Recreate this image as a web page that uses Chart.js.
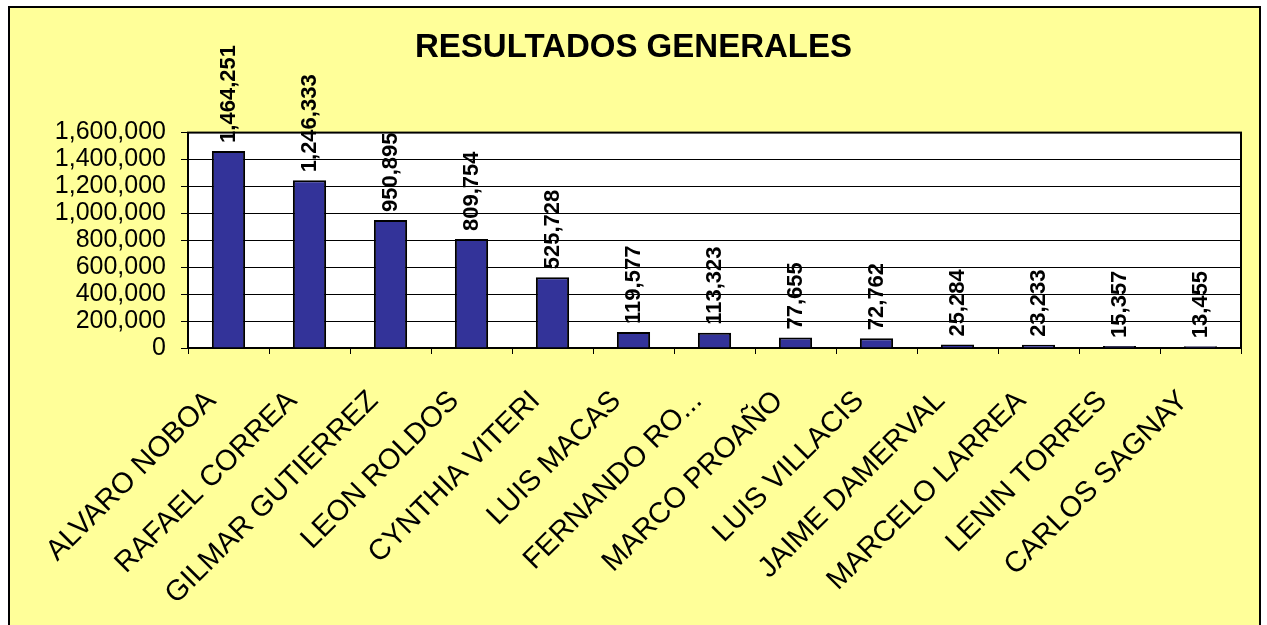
<!DOCTYPE html>
<html>
<head>
<meta charset="utf-8">
<script src="https://cdn.jsdelivr.net/npm/chart.js@4"></script>
<style>
    html, body { margin: 0; padding: 0; background: #ffffff; width: 1267px; height: 625px; overflow: hidden; }
    #marco {
        position: absolute; left: 8px; top: 6px; width: 1249px; height: 660px;
        background: #FFFF99; border: 2px solid #000000;
    }
    #grafico { position: absolute; left: 0; top: 0; }
</style>
</head>
<body>
<div id="marco"></div>
<canvas id="grafico" width="1267" height="625"></canvas>
<script>
// Datos del gráfico
const candidatos = [
    'ALVARO NOBOA', 'RAFAEL CORREA', 'GILMAR GUTIERREZ', 'LEON ROLDOS',
    'CYNTHIA VITERI', 'LUIS MACAS', 'FERNANDO RO...', 'MARCO PROAÑO',
    'LUIS VILLACIS', 'JAIME DAMERVAL', 'MARCELO LARREA', 'LENIN TORRES', 'CARLOS SAGNAY'
];
const votos = [1464251, 1246333, 950895, 809754, 525728, 119577, 113323, 77655, 72762, 25284, 23233, 15357, 13455];
const ejeYMin = 0;
const ejeYMax = 1600000;
const ejeYPaso = 200000;

const FUENTE = "'Liberation Sans', Arial, sans-serif";

function formato(n) {
    return Number(n).toLocaleString('en-US');
}

// Fondo blanco y marco del área de trazado
const areaTrazado = {
    id: 'areaTrazado',
    beforeDraw(chart) {
        const { ctx, chartArea: a } = chart;
        ctx.save();
        ctx.fillStyle = '#ffffff';
        ctx.fillRect(a.left, a.top, a.right - a.left, a.bottom - a.top);
        ctx.restore();
    },
    beforeDatasetsDraw(chart) {
        const { ctx, chartArea: a } = chart;
        ctx.save();
        ctx.strokeStyle = '#000000';
        ctx.lineWidth = 2;
        ctx.strokeRect(a.left, a.top, a.right - a.left, a.bottom - a.top);
        ctx.restore();
    }
};

// Etiquetas de valor verticales sobre cada barra
const etiquetasValor = {
    id: 'etiquetasValor',
    afterDatasetsDraw(chart) {
        const { ctx } = chart;
        const meta = chart.getDatasetMeta(0);
        ctx.save();
        ctx.font = 'bold 22px ' + FUENTE;
        ctx.fillStyle = '#000000';
        ctx.textAlign = 'left';
        ctx.textBaseline = 'middle';
        meta.data.forEach((barra, i) => {
            ctx.save();
            ctx.translate(barra.x, barra.y - 8);
            ctx.rotate(-Math.PI / 2);
            ctx.fillText(formato(votos[i]), 0, 0);
            ctx.restore();
        });
        ctx.restore();
    }
};

new Chart(document.getElementById('grafico'), {
    type: 'bar',
    data: {
        labels: candidatos,
        datasets: [{
            data: votos,
            backgroundColor: '#333399',
            borderColor: '#000000',
            borderWidth: 2,
            borderSkipped: 'bottom',
            categoryPercentage: 1,
            barPercentage: 0.41
        }]
    },
    options: {
        responsive: false,
        animation: false,
        layout: { padding: { left: 26, right: 26, top: 0, bottom: 0 } },
        plugins: {
            legend: { display: false },
            tooltip: { enabled: false },
            title: {
                display: true,
                text: 'RESULTADOS GENERALES',
                color: '#000000',
                font: { family: FUENTE, size: 33, weight: 'bold', lineHeight: 1.2 },
                padding: { top: 28, bottom: 65 }
            }
        },
        scales: {
            y: {
                min: ejeYMin,
                max: ejeYMax,
                afterFit(scale) { scale.width = 162; },
                ticks: {
                    stepSize: ejeYPaso,
                    autoSkip: false,
                    color: '#000000',
                    padding: 15,
                    font: { family: FUENTE, size: 25 },
                    callback: (v) => formato(v)
                },
                grid: {
                    color: '#000000',
                    lineWidth: 1,
                    tickLength: 7,
                    tickColor: '#000000'
                },
                border: { color: '#000000', width: 2 }
            },
            x: {
                afterFit(scale) { scale.height = 277; },
                ticks: {
                    color: '#000000',
                    autoSkip: false,
                    maxRotation: 45,
                    minRotation: 45,
                    padding: 30,
                    labelOffset: -17,
                    font: { family: FUENTE, size: 29 }
                },
                grid: {
                    offset: true,
                    drawOnChartArea: false,
                    tickLength: 6,
                    tickColor: '#000000'
                },
                border: { color: '#000000', width: 2 }
            }
        }
    },
    plugins: [areaTrazado, etiquetasValor]
});
</script>
</body>
</html>
